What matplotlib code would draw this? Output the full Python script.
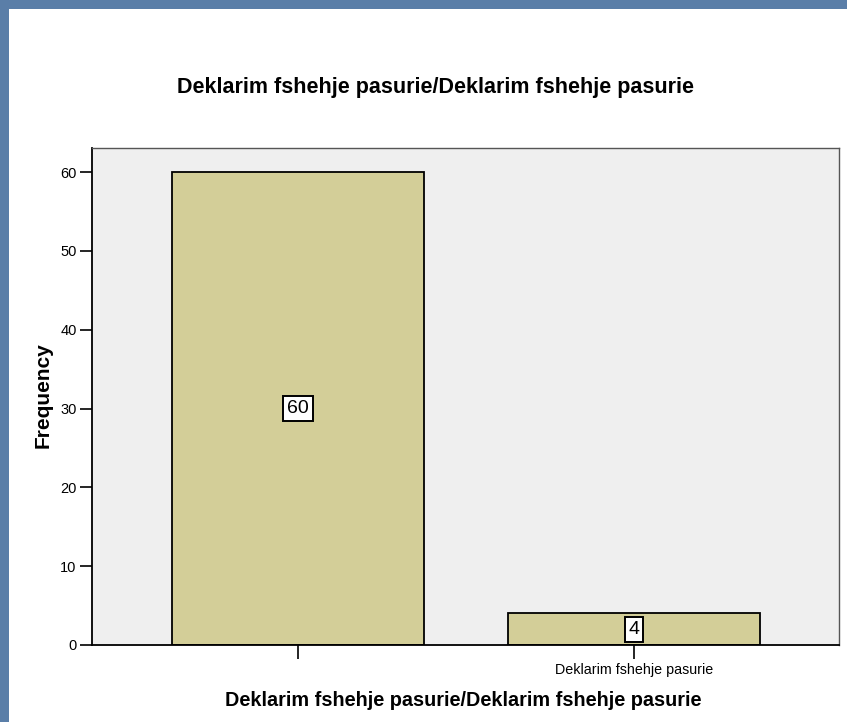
import matplotlib
matplotlib.use("Agg")
import matplotlib.pyplot as plt
from matplotlib.patches import Rectangle

plt.rcParams['font.family'] = ['Liberation Sans', 'DejaVu Sans']

categories = ["", "Deklarim fshehje pasurie"]
values = [60, 4]
yticks = [0, 10, 20, 30, 40, 50, 60]
title = "Deklarim fshehje pasurie/Deklarim fshehje pasurie"

W, H = 847, 722
fig = plt.figure(figsize=(W / 100, H / 100), dpi=100)
fig.patch.set_facecolor('#5a7ea8')
fig.patches.append(Rectangle((9 / W, 0), 1 - 9 / W, 1 - 9 / H, transform=fig.transFigure,
                             facecolor='white', edgecolor='none', zorder=-10))

ax = fig.add_axes([92 / W, 1 - 645 / H, (839 - 92) / W, (645 - 148) / H])
ax.set_zorder(5)
ax.set_facecolor('#efefef')
x = list(range(len(categories)))
ax.bar(x, values, width=0.75, color='#d3ce98', edgecolor='black', linewidth=1.3, zorder=2)
for xi, v in zip(x, values):
    ax.text(xi, v / 2, str(v), ha='center', va='center', fontsize=14, zorder=3,
            bbox=dict(boxstyle='square,pad=0.2', facecolor='white', edgecolor='black', linewidth=1.4))

ax.set_xlim(-0.613, 1.61)
ax.set_ylim(0, 63.06)
ax.set_yticks(yticks)
ax.set_xticks(x)
ax.set_xticklabels(categories, fontsize=10.3)
ax.tick_params(axis='y', direction='out', length=9, width=1.2, labelsize=10.5, pad=2)
ax.tick_params(axis='x', direction='out', length=10, width=1.2, labelsize=10.3, pad=3)
for s in ['left', 'bottom']:
    ax.spines[s].set_color('black')
    ax.spines[s].set_linewidth(1.3)
for s in ['top', 'right']:
    ax.spines[s].set_color('#555555')
    ax.spines[s].set_linewidth(1.0)

fig.text(435.5 / W, 1 - 88 / H, title, ha='center', va='center', fontsize=15.5, fontweight='bold')
fig.text(463.5 / W, 1 - 700 / H, title, ha='center', va='center', fontsize=14.3, fontweight='bold')
fig.text(43 / W, 1 - 395 / H, "Frequency", ha='center', va='center', rotation=90,
         fontsize=15, fontweight='bold')

fig.savefig("out.png", dpi=100, facecolor=fig.get_facecolor())
